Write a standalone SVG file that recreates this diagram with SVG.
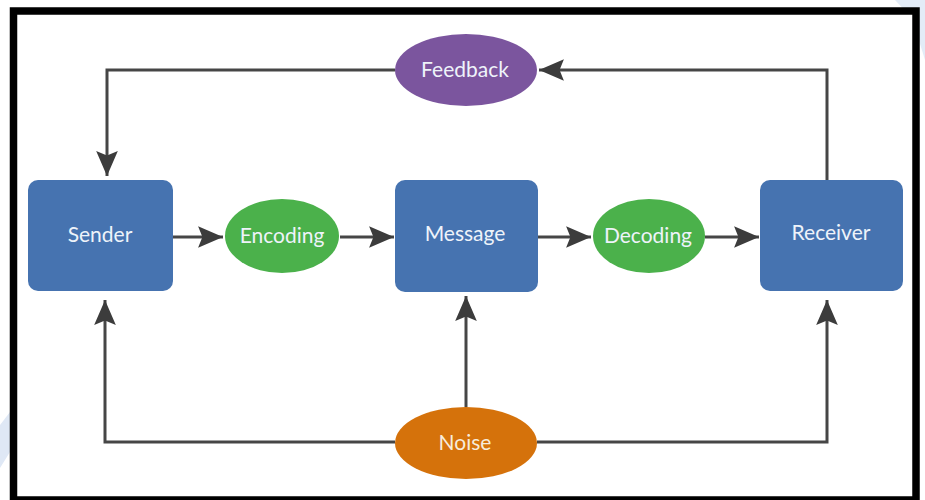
<svg xmlns="http://www.w3.org/2000/svg" width="925" height="500" viewBox="0 0 925 500">
  <style>
    .box { fill: #4673b0; }
    .green { fill: #4bb14b; }
    .label { font-family: Lato, "Open Sans", "Liberation Sans", sans-serif; font-size: 21px; fill: #eef3fa; text-anchor: middle; }
    .conn { fill: none; stroke: #464646; stroke-width: 3; }
  </style>
  <defs>
    <marker id="arrow" markerUnits="userSpaceOnUse" markerWidth="26" markerHeight="24" viewBox="-23 -11 24 22" refX="0" refY="0" orient="auto">
      <path d="M0,0 L-23,-10 L-19,0 L-23,10 Z" fill="#3c3c3c"/>
    </marker>
  </defs>
  <rect x="0" y="0" width="925" height="500" fill="#ffffff"/>
  <polygon points="895,0 925,0 925,60 912,18" fill="#e3ecf7"/>
  <polygon points="0,425 10,412 10,452 0,468" fill="#dfe8f5"/>
  <rect x="13.5" y="11" width="902.5" height="489" fill="#ffffff" stroke="#000000" stroke-width="7.5"/>

  <g id="connectors">
    <path class="conn" d="M827,180 L827,70 L539,70" marker-end="url(#arrow)"/>
    <path class="conn" d="M395,70 L107,70 L107,176" marker-end="url(#arrow)"/>
    <path class="conn" d="M173,237 L223,237" marker-end="url(#arrow)"/>
    <path class="conn" d="M340,237 L394,237" marker-end="url(#arrow)"/>
    <path class="conn" d="M538,237 L591,237" marker-end="url(#arrow)"/>
    <path class="conn" d="M705,237 L759,237" marker-end="url(#arrow)"/>
    <path class="conn" d="M466,407 L466,296" marker-end="url(#arrow)"/>
    <path class="conn" d="M395,442 L105,442 L105,300" marker-end="url(#arrow)"/>
    <path class="conn" d="M537,442 L827,442 L827,300" marker-end="url(#arrow)"/>
  </g>

  <g id="sender">
    <rect class="box" x="28" y="180" width="145" height="111" rx="10"/>
    <text class="label" x="100" y="242">Sender</text>
  </g>
  <g id="encoding">
    <ellipse class="green" cx="282" cy="236" rx="57" ry="37"/>
    <text class="label" x="282" y="243">Encoding</text>
  </g>
  <g id="message">
    <rect class="box" x="395" y="180" width="143" height="112" rx="10"/>
    <text class="label" x="465" y="241">Message</text>
  </g>
  <g id="decoding">
    <ellipse class="green" cx="649" cy="236" rx="56" ry="37"/>
    <text class="label" x="648" y="243">Decoding</text>
  </g>
  <g id="receiver">
    <rect class="box" x="760" y="180" width="143" height="111" rx="10"/>
    <text class="label" x="831" y="240">Receiver</text>
  </g>
  <g id="feedback">
    <ellipse cx="466" cy="70" rx="71" ry="36" fill="#7b559e"/>
    <text class="label" x="465" y="77">Feedback</text>
  </g>
  <g id="noise">
    <ellipse cx="466" cy="443" rx="71" ry="36" fill="#d5720b"/>
    <text class="label" x="465" y="450" style="fill:#f7ecdc">Noise</text>
  </g>
</svg>
